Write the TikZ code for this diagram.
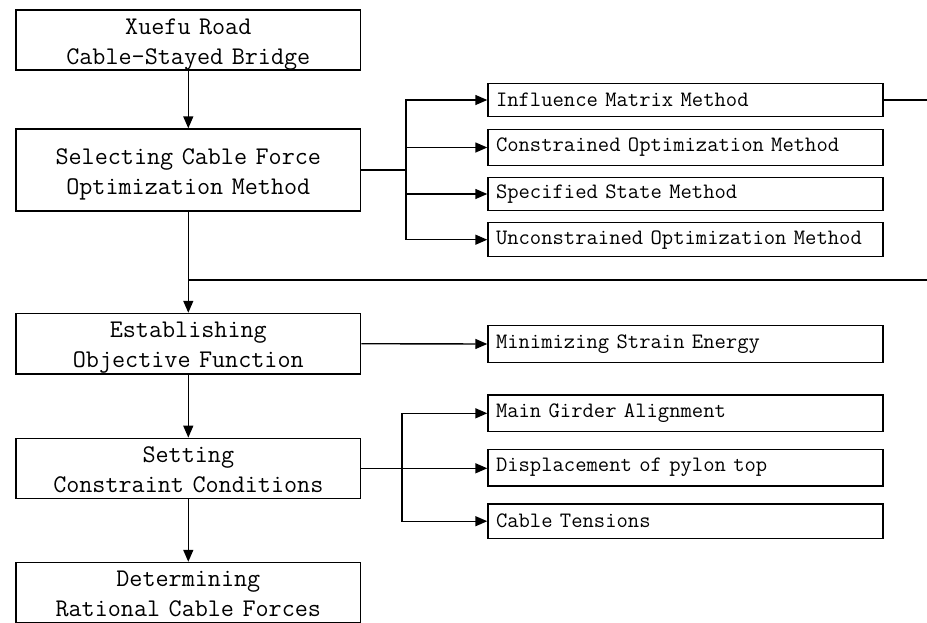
\documentclass[tikz,border=0pt]{standalone}
\usetikzlibrary{arrows.meta}
\begin{document}
\begin{tikzpicture}[x=1pt,y=-1pt,
  line width=1.4pt,
  arr/.style={-{Triangle[length=12pt,width=10pt]}},
  lbox/.style={draw, inner sep=0pt, text width=344.5pt, align=center,
    execute at begin node={\rule{0pt}{24pt}},
    execute at end node={\rule[-6pt]{0pt}{6pt}},
    font=\ttfamily\fontsize{25.4}{30}\selectfont},
  rbox/.style={draw, inner xsep=8pt, inner ysep=0pt, text width=379pt, align=left,
    font=\ttfamily\fontsize{22}{26}\selectfont}]
\useasboundingbox (0,0) rectangle (927,622);
% left column
\node[lbox, minimum height=60pt] (b1) at (188.3,40) {Xuefu Road\\Cable-Stayed Bridge};
\node[lbox, minimum height=82pt] (b2) at (188.3,170) {Selecting Cable Force\\Optimization Method};
\node[lbox, minimum height=60.5pt] (b3) at (188.3,343.7) {Establishing\\Objective Function};
\node[lbox, minimum height=60pt] (b4) at (188.3,468.3) {Setting\\Constraint Conditions};
\node[lbox, minimum height=60pt] (b5) at (188.3,592.5) {Determining\\Rational Cable Forces};
% right column
\node[rbox, minimum height=33.5pt] (r1) at (685.5,100) {Influence Matrix Method};
\node[rbox, minimum height=36.4pt] (r2) at (685.5,147.5) {Constrained Optimization Method};
\node[rbox, minimum height=33.4pt] (r3) at (685.5,194) {Specified State Method};
\node[rbox, minimum height=34pt] (r4) at (685.5,239.7) {Unconstrained Optimization Method};
\node[rbox, minimum height=36.6pt] (r5) at (685.5,344) {Minimizing Strain Energy};
\node[rbox, minimum height=36.7pt] (r6) at (685.5,413.3) {Main Girder Alignment};
\node[rbox, minimum height=36.7pt] (r7) at (685.5,467.7) {Displacement of pylon top};
\node[rbox, minimum height=34.3pt] (r8) at (685.5,521.2) {Cable Tensions};
% junctions
\coordinate (j1) at (406,170);
\coordinate (j2) at (402,468);
\coordinate (m) at (188.3,280);
\coordinate (e1) at (927,100);
\coordinate (e2) at (927,280);
% main flow
\draw[arr] (b1) -- (b2);
\draw[arr] (b2) -- (b3);
\draw[arr] (b3) -- (b4);
\draw[arr] (b4) -- (b5);
% branch 1
\draw (b2.east) -- (j1);
\draw[arr] (j1) |- (r1.west);
\draw[arr] (j1) |- (r2.west);
\draw[arr] (j1) |- (r3.west);
\draw[arr] (j1) |- (r4.west);
% objective
\draw[arr] (b3.east) -- (r5.west);
% branch 2
\draw[arr] (b4.east) -- (b4.east -| r7.west);
\draw[arr] (j2) |- (r6.west);
\draw[arr] (j2) |- (r8.west);
% feedback lines
\draw (r1.east) -- (e1);
\draw (m) -- (e2);
\end{tikzpicture}
\end{document}
